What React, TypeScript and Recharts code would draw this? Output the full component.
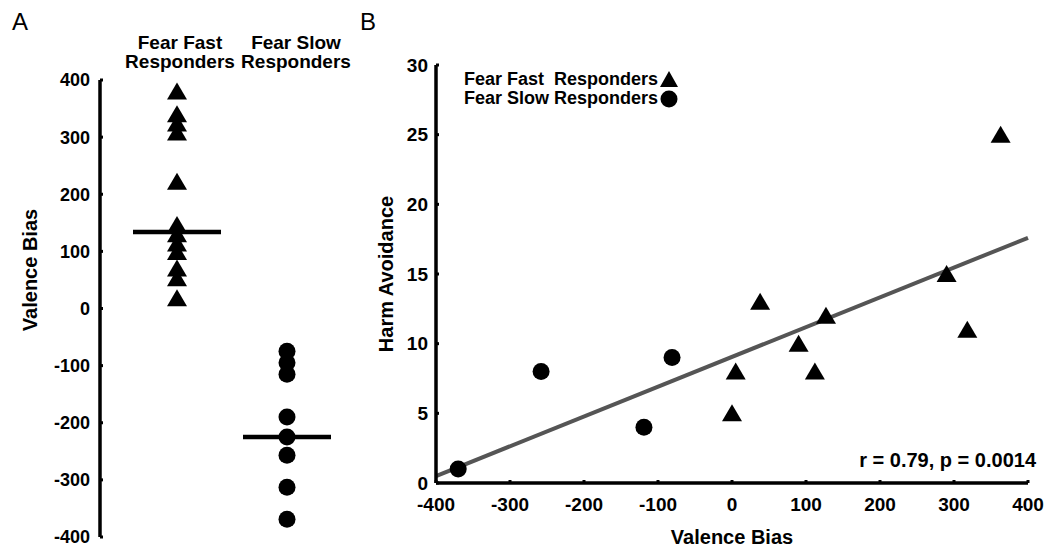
import { ScatterChart, Scatter, XAxis, YAxis, ReferenceLine, Legend } from 'recharts';

// Panel A: valence bias per group
const groupPositions = [1, 2];
const groupNames = ['Fear Fast Responders', 'Fear Slow Responders'];
const fastValence = [380, 340, 324, 308, 222, 146, 130, 114, 99, 70, 53, 18];
const slowValence = [-75, -95, -115, -190, -225, -257, -313, -369];
const groupMeans = [134, -225];
const valenceTicks = [-400, -300, -200, -100, 0, 100, 200, 300, 400];

// Panel B: harm avoidance vs valence bias
const fastBias = [0, 5, 38, 90, 112, 127, 290, 318, 363];
const fastHarm = [5, 8, 13, 10, 8, 12, 15, 11, 25];
const slowBias = [-370, -258, -119, -81];
const slowHarm = [1, 8, 4, 9];
const fitBias = [-400, 400];
const fitHarm = [0.5, 17.6];
const biasTicks = [-400, -300, -200, -100, 0, 100, 200, 300, 400];
const harmTicks = [0, 5, 10, 15, 20, 25, 30];
const statText = 'r = 0.79, p = 0.0014';

const FONT = '"Liberation Sans", Arial, sans-serif';

const fastA = fastValence.map((v) => ({ group: groupPositions[0], valence: v }));
const slowA = slowValence.map((v) => ({ group: groupPositions[1], valence: v }));
const fastB = fastBias.map((b, i) => ({ bias: b, harm: fastHarm[i] }));
const slowB = slowBias.map((b, i) => ({ bias: b, harm: slowHarm[i] }));

const Triangle = (props: any) => {
  const { cx, cy } = props;
  return <path d={`M${cx},${cy - 9} L${cx + 10},${cy + 8} L${cx - 10},${cy + 8} Z`} fill="#000" />;
};

const Dot = (props: any) => {
  const { cx, cy } = props;
  return <circle cx={cx} cy={cy} r={8.5} fill="#000" />;
};

const tickStyle = { fill: '#000', fontSize: 18, fontWeight: 700, fontFamily: FONT };
const axisLine = { stroke: '#000', strokeWidth: 3.5 };
const tickLine = { stroke: '#000', strokeWidth: 3 };

const verticalLabel = (text: string, x: number, cy: number) => (props: any) => {
  const vb = props.viewBox || {};
  const px = (vb.x || 0) + x;
  const py = (vb.y || 0) + cy;
  return (
    <text
      x={px}
      y={py}
      transform={`rotate(-90, ${px}, ${py})`}
      textAnchor="middle"
      dominantBaseline="central"
      fill="#000"
      fontSize={20}
      fontWeight={700}
      fontFamily={FONT}
    >
      {text}
    </text>
  );
};

const BLegend = () => (
  <div style={{ fontFamily: FONT, fontSize: 18, fontWeight: 700, lineHeight: '19px', color: '#000' }}>
    {groupNames.map((name, i) => (
      <div key={name} style={{ display: 'flex', alignItems: 'center', whiteSpace: 'pre' }}>
        <span>{i === 0 ? name.replace('Fast ', 'Fast  ') : name}</span>
        <svg width={20} height={19} style={{ marginLeft: 1 }}>
          {i === 0 ? (
            <path d="M10,1 L19,17 L1,17 Z" fill="#000" />
          ) : (
            <circle cx={10} cy={10} r={8.5} fill="#000" />
          )}
        </svg>
      </div>
    ))}
  </div>
);

export default function App() {
  return (
    <div style={{ position: 'absolute', left: 0, top: 0, width: 1050, height: 554, background: '#fff', fontFamily: FONT }}>
      <div style={{ position: 'absolute', left: 12, top: 8, fontSize: 24 }}>A</div>
      <div style={{ position: 'absolute', left: 360, top: 8, fontSize: 24 }}>B</div>

      {groupNames.map((name, i) => (
        <div
          key={name}
          style={{
            position: 'absolute',
            left: [180, 296][i] - 70,
            width: 140,
            top: 33,
            textAlign: 'center',
            fontSize: 19,
            fontWeight: 700,
            lineHeight: '19px',
          }}
        >
          {name.replace(' Responders', '')}
          <br />
          Responders
        </div>
      ))}

      <div style={{ position: 'absolute', left: 0, top: 0 }}>
        <ScatterChart width={360} height={554} margin={{ top: 80, right: 18, bottom: 17, left: 40 }}>
          <XAxis type="number" dataKey="group" domain={[0.3, 2.5]} hide />
          <YAxis
            type="number"
            dataKey="valence"
            width={60}
            domain={[-400, 400]}
            ticks={valenceTicks}
            interval={0}
            tick={tickStyle}
            tickSize={-3}
            tickMargin={13}
            axisLine={axisLine}
            tickLine={tickLine}
            label={verticalLabel('Valence Bias', -10, 190)}
          />
          <Scatter data={fastA} shape={Triangle} isAnimationActive={false} />
          <Scatter data={slowA} shape={Dot} isAnimationActive={false} />
          {groupMeans.map((m, i) => (
            <ReferenceLine
              key={i}
              segment={[
                { x: groupPositions[i] - 0.4, y: m },
                { x: groupPositions[i] + 0.4, y: m },
              ]}
              stroke="#000"
              strokeWidth={4.5}
            />
          ))}
        </ScatterChart>
      </div>

      <div style={{ position: 'absolute', left: 360, top: 0 }}>
        <ScatterChart width={690} height={554} margin={{ top: 65, right: 22, bottom: 0, left: 0 }}>
          <XAxis
            type="number"
            dataKey="bias"
            height={71}
            domain={[-400, 400]}
            ticks={biasTicks}
            interval={0}
            tick={{ ...tickStyle, fontSize: 19 }}
            tickSize={-3}
            tickMargin={18}
            axisLine={axisLine}
            tickLine={tickLine}
            label={(props: any) => {
              const vb = props.viewBox || {};
              return (
                <text
                  x={(vb.x || 0) + (vb.width || 0) / 2}
                  y={(vb.y || 0) + 54}
                  textAnchor="middle"
                  dominantBaseline="central"
                  fill="#000"
                  fontSize={20}
                  fontWeight={700}
                  fontFamily={FONT}
                >
                  Valence Bias
                </text>
              );
            }}
          />
          <YAxis
            type="number"
            dataKey="harm"
            width={76}
            domain={[0, 30]}
            ticks={harmTicks}
            interval={0}
            tick={{ ...tickStyle, fontSize: 19 }}
            tickSize={-3}
            tickMargin={11}
            axisLine={axisLine}
            tickLine={tickLine}
            label={verticalLabel('Harm Avoidance', 25.5, 209)}
          />
          <ReferenceLine
            segment={[
              { x: fitBias[0], y: fitHarm[0] },
              { x: fitBias[1], y: fitHarm[1] },
            ]}
            stroke="#555"
            strokeWidth={4}
          />
          <Scatter name={groupNames[0]} data={fastB} shape={Triangle} isAnimationActive={false} />
          <Scatter name={groupNames[1]} data={slowB} shape={Dot} isAnimationActive={false} />
          <Legend
            layout="vertical"
            align="center"
            verticalAlign="middle"
            content={BLegend}
            wrapperStyle={{ left: 104, top: 70, width: 'auto' }}
          />
        </ScatterChart>
      </div>

      <div
        style={{
          position: 'absolute',
          right: 14,
          top: 448,
          fontSize: 20,
          fontWeight: 700,
          lineHeight: '24px',
        }}
      >
        {statText}
      </div>
    </div>
  );
}
